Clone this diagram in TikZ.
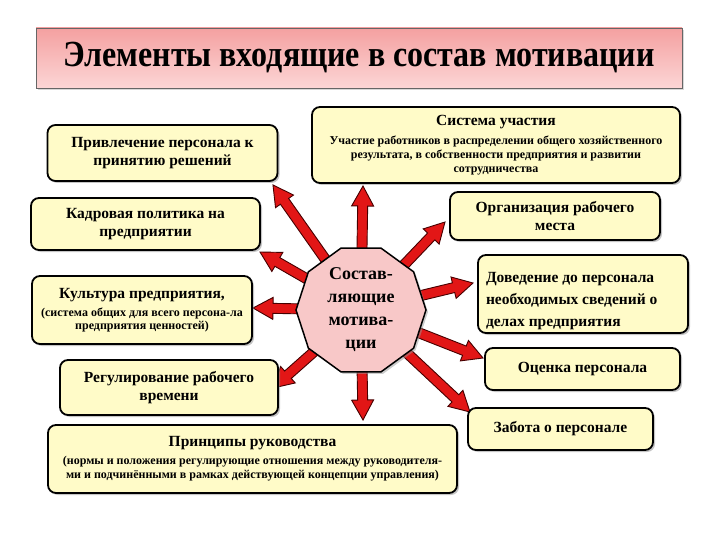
\documentclass[tikz,border=0pt]{standalone}
\usepackage{fontspec}
\setmainfont{Liberation Serif}
\usetikzlibrary{calc,shapes.geometric,shadows}
\definecolor{boxyellow}{RGB}{255,251,200}
\definecolor{arrowred}{RGB}{226,22,22}
\definecolor{arrowline}{RGB}{70,0,0}
\definecolor{octpink}{RGB}{248,200,200}
\definecolor{titletop}{RGB}{244,160,160}
\definecolor{titlebot}{RGB}{252,214,214}
\pgfdeclarelayer{bg}
\pgfsetlayers{bg,main}
\newcommand\fatarrow[2]{%
  \path coordinate (fan) at ($(#2)!20pt!(#1)$);
  \filldraw[fill=arrowred, draw=arrowline, line width=0.9pt, line join=miter]
    ($(#1)!5pt!90:(#2)$) -- ($(fan)!5pt!90:(#2)$) -- ($(fan)!11pt!90:(#2)$)
    -- (#2) -- ($(fan)!11pt!-90:(#2)$) -- ($(fan)!5pt!-90:(#2)$)
    -- ($(#1)!5pt!-90:(#2)$) -- cycle;}
\newcommand\subtxt{\fontsize{12}{13}\selectfont}
\tikzset{
  box/.style={draw=black, line width=1.8pt, rounded corners=8pt, fill=boxyellow,
    drop shadow={shadow xshift=2pt, shadow yshift=-2pt, fill=black!45},
    font=\bfseries\fontsize{15.5}{18}\selectfont, align=center, inner sep=2pt},
}
\begin{document}
\begin{tikzpicture}[x=1pt,y=-1pt]
\useasboundingbox (0,0) rectangle (720,540);
% title
\node[draw=black!60, line width=0.8pt, top color=titletop, bottom color=titlebot,
  minimum width=646pt, minimum height=60pt,
  drop shadow={shadow xshift=2pt, shadow yshift=-2pt, fill=black!30},
  font=\bfseries\fontsize{32}{36}\selectfont] (title) at (359,58) {\scalebox{1}[1.15]{Элементы входящие в состав мотивации}};
% boxes
\node[box, minimum width=230pt, minimum height=56pt] (b1) at (162.5,153) {Привлечение персонала к\\принятию решений};
\node[box, minimum width=368pt, minimum height=76pt] (b2) at (496,145) {Система участия\\[1pt]\subtxt Участие работников в распределении общего хозяйственного\\[-4pt]\subtxt результата, в собственности предприятия и развитии\\[-4pt]\subtxt сотрудничества};
\node[box, minimum width=229pt, minimum height=52pt] (b3) at (145.5,224) {Кадровая политика на\\предприятии};
\node[box, minimum width=210pt, minimum height=48pt] (b4) at (555,216) {Организация рабочего\\места};
\node[box, minimum width=220pt, minimum height=68pt] (b5) at (142,310) {Культура предприятия,\\[0pt]\subtxt (система общих для всего персона-ла\\[-5pt]\subtxt предприятия ценностей)};
\node[box, minimum width=210pt, minimum height=78pt, align=flush left, text width=194pt, text height=24pt,
  font=\bfseries\fontsize{15.5}{22}\selectfont] (b6) at (583,294) {Доведение до персонала\\необходимых сведений о\\делах предприятия};
\node[box, minimum width=218pt, minimum height=55pt] (b8) at (169,387.5) {Регулирование рабочего\\времени};
\node[box, minimum width=195pt, minimum height=42pt] (b9) at (582.5,369) {Оценка персонала};
\node[box, minimum width=409pt, minimum height=68pt] (b10) at (252.5,459) {Принципы руководства\\[0pt]\subtxt (нормы и положения регулирующие отношения между руководителя-\\[-4pt]\subtxt ми и подчинёнными в рамках действующей концепции управления)};
\node[box, minimum width=185pt, minimum height=42pt] (b11) at (560.5,429) {Забота о персонале};
% centre
\node[regular polygon, regular polygon sides=10, minimum size=130pt, draw=black, line width=1.5pt,
  fill=octpink, drop shadow={shadow xshift=2pt, shadow yshift=-2pt, fill=black!40}, inner sep=0pt,
  align=center, font=\bfseries\fontsize{18}{23}\selectfont] (c) at (361,310) {Состав-\\ляющие\\мотива-\\ции};
% arrow tips
\coordinate (t1) at (273,185);
\coordinate (t2) at (363,186);
\coordinate (t3) at (260,252);
\coordinate (t4) at (445,222);
\coordinate (t5) at (253,308);
\coordinate (t6) at (473,283);
\coordinate (t8) at (273,388);
\coordinate (t9) at (483,358);
\coordinate (t10) at (363,420);
\coordinate (t11) at (470,412);
\begin{pgfonlayer}{bg}
\foreach \t in {t1,t2,t3,t4,t5,t6,t8,t9,t10,t11}{\fatarrow{c.center}{\t}}
\end{pgfonlayer}
\end{tikzpicture}
\end{document}
